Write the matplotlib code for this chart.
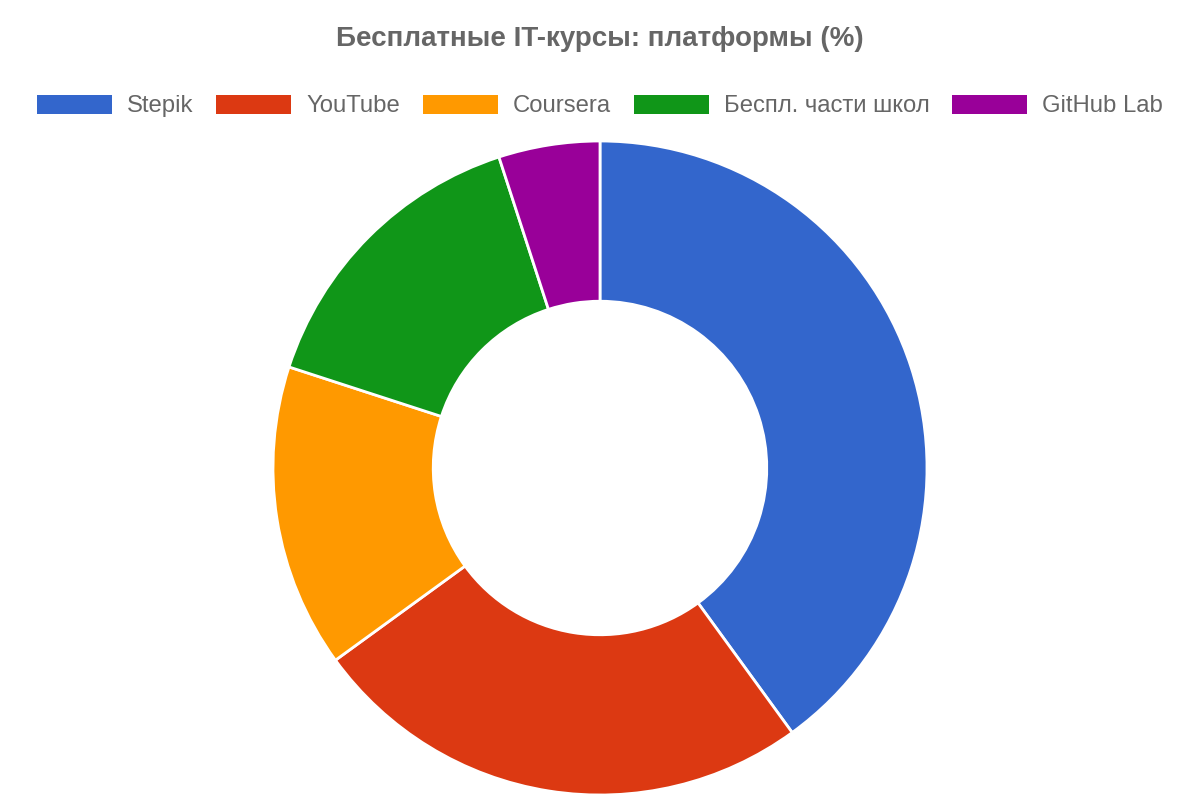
import matplotlib.pyplot as plt
from matplotlib.patches import Patch

plt.rcParams['font.family'] = ['Liberation Sans', 'DejaVu Sans']

labels = ['Stepik', 'YouTube', 'Coursera', 'Беспл. части школ', 'GitHub Lab']
shares = [40, 25, 15, 15, 5]
colors = ['#3366CC', '#DC3912', '#FF9900', '#109618', '#990099']
title = 'Бесплатные IT-курсы: платформы (%)'

fig = plt.figure(figsize=(12, 8), dpi=100)

# donut: center (600, 468) px, outer radius ~327 px
R = 327
ax = fig.add_axes([(600 - R) / 1200, (800 - 468 - R) / 800, 2 * R / 1200, 2 * R / 800])
ax.pie(shares, colors=colors, startangle=90, counterclock=False, radius=1,
       wedgeprops=dict(width=0.49, edgecolor='white', linewidth=2))
ax.set_xlim(-1, 1)
ax.set_ylim(-1, 1)
ax.set_aspect('equal')
ax.axis('off')

fig.text(0.5, 1 - 39 / 800, title, ha='center', va='center',
         fontsize=20, fontweight='bold', color='#666666')

handles = [Patch(facecolor=c, edgecolor='none') for c in colors]
fig.legend(handles, labels, loc='center', bbox_to_anchor=(0.5, 1 - 106 / 800),
           ncol=5, frameon=False, fontsize=17.2, labelcolor='#666666',
           handlelength=3.15, handleheight=0.85, handletextpad=0.62,
           columnspacing=0.95, borderpad=0)

fig.savefig('out.png', dpi=100)
